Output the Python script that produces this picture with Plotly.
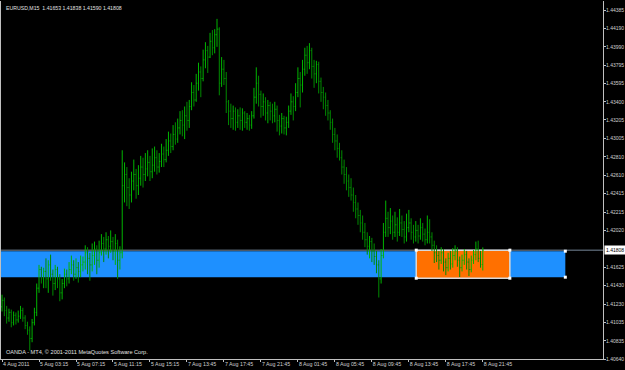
import plotly.graph_objects as go

bar_index = list(range(209))

opens = [
1.4120,1.4127,1.4116,1.4108,1.4114,1.4103,1.4111,1.4106,1.4110,1.4116,1.4108,1.4100,1.4095,1.4086,
1.4103,1.4114,1.4140,1.4160,1.4150,1.4158,1.4150,1.4165,1.4155,1.4145,1.4160,1.4150,1.4135,1.4145,1.4155,1.4150,
1.4160,1.4165,1.4155,1.4162,1.4158,1.4165,1.4168,1.4178,1.4172,1.4165,1.4175,1.4182,1.4170,1.4178,1.4188,1.4182,
1.4192,1.4185,1.4190,1.4180,1.4188,1.4170,
1.4178,1.4250,1.4262,1.4248,1.4240,1.4255,1.4262,1.4250,1.4258,1.4270,1.4262,1.4268,1.4275,1.4265,1.4272,1.4280,
1.4270,1.4276,1.4284,1.4278,1.4288,1.4298,1.4292,1.4305,1.4300,1.4312,1.4320,1.4315,1.4325,1.4320,1.4335,1.4350,
1.4342,1.4360,1.4372,1.4365,1.4385,1.4395,1.4388,1.4405,1.4398,1.4412,
1.4418,1.4360,1.4375,1.4365,1.4340,1.4330,1.4322,1.4330,1.4318,1.4325,1.4320,1.4328,1.4318,1.4322,1.4315,1.4325,
1.4345,1.4360,1.4348,1.4335,1.4340,1.4328,1.4336,1.4330,1.4325,1.4332,1.4320,1.4314,1.4322,1.4312,1.4318,1.4330,
1.4340,1.4335,1.4350,1.4365,1.4358,1.4375,1.4390,1.4382,1.4395,1.4378,1.4370,1.4380,1.4362,1.4350,1.4345,1.4336,1.4328,
1.4318,1.4305,1.4298,1.4290,1.4280,1.4270,1.4262,1.4255,1.4248,1.4240,1.4232,1.4225,1.4218,1.4210,1.4200,1.4192,
1.4185,1.4190,1.4180,1.4174,1.4165,1.4150,1.4175,1.4200,1.4215,1.4205,1.4212,1.4200,1.4208,1.4200,1.4210,1.4203,
1.4195,1.4205,1.4210,1.4200,1.4195,1.4202,1.4196,1.4205,1.4198,1.4192,1.4200,1.4195,1.4186,
1.4178,1.4175,1.4170,1.4178,1.4168,1.4162,1.4172,1.4166,1.4175,1.4180,1.4170,1.4162,1.4170,1.4176,1.4168,1.4160,
1.4170,1.4176,1.4182,1.4172,1.41653]

highs = [
1.4133,1.4130,1.4121,1.4118,1.4117,1.4115,1.4114,1.4116,1.4121,1.4119,1.4111,1.4104,1.4099,1.4107,
1.4119,1.4145,1.4165,1.4163,1.4162,1.4172,1.4170,1.4176,1.4160,1.4165,1.4163,1.4155,1.4150,1.4161,1.4160,1.4168,
1.4175,1.4170,1.4172,1.4168,1.4175,1.4174,1.4186,1.4184,1.4178,1.4188,1.4190,1.4186,1.4191,1.4198,1.4195,1.4200,
1.4196,1.4202,1.4195,1.4198,1.4192,1.4185,
1.4288,1.4275,1.4270,1.4258,1.4265,1.4278,1.4268,1.4272,1.4282,1.4280,1.4285,1.4288,1.4282,1.4290,1.4292,1.4288,
1.4285,1.4295,1.4292,1.4300,1.4308,1.4306,1.4315,1.4318,1.4322,1.4330,1.4331,1.4335,1.4340,1.4342,1.4361,1.4358,
1.4370,1.4382,1.4378,1.4396,1.4404,1.4400,1.4414,1.4417,1.4418,1.4429,
1.4420,1.4388,1.4385,1.4372,1.4342,1.4338,1.4336,1.4334,1.4332,1.4334,1.4333,1.4330,1.4328,1.4326,1.4330,1.4355,
1.4377,1.4368,1.4352,1.4349,1.4345,1.4342,1.4340,1.4338,1.4340,1.4336,1.4326,1.4328,1.4325,1.4324,1.4336,1.4349,
1.4346,1.4360,1.4377,1.4372,1.4385,1.4398,1.4400,1.4403,1.4398,1.4385,1.4384,1.4383,1.4366,1.4356,1.4350,1.4342,1.4331,
1.4322,1.4312,1.4305,1.4296,1.4288,1.4278,1.4270,1.4262,1.4258,1.4248,1.4240,1.4232,1.4224,1.4218,1.4210,1.4200,
1.4196,1.4194,1.4188,1.4180,1.4170,1.4182,1.4210,1.4234,1.4222,1.4226,1.4218,1.4222,1.4216,1.4225,1.4218,1.4212,
1.4220,1.4224,1.4215,1.4208,1.4212,1.4208,1.4215,1.4210,1.4204,1.4218,1.4214,1.4200,1.4191,
1.4186,1.4180,1.4184,1.4182,1.4172,1.4178,1.4180,1.4183,1.4186,1.4184,1.4174,1.4176,1.4182,1.4180,1.4172,1.4175,
1.4181,1.4190,1.4191,1.4180,1.41838]

lows = [
1.4115,1.4110,1.4102,1.4104,1.4098,1.4100,1.4101,1.4103,1.4107,1.4104,1.4096,1.4090,1.4073,1.4082,
1.4100,1.4110,1.4135,1.4145,1.4140,1.4140,1.4135,1.4148,1.4132,1.4138,1.4140,1.4126,1.4128,1.4140,1.4142,1.4145,
1.4155,1.4148,1.4150,1.4146,1.4152,1.4158,1.4160,1.4155,1.4148,1.4158,1.4165,1.4155,1.4162,1.4175,1.4168,1.4176,
1.4172,1.4178,1.4170,1.4165,1.4150,1.4160,
1.4172,1.4232,1.4228,1.4225,1.4232,1.4245,1.4236,1.4240,1.4250,1.4248,1.4255,1.4260,1.4255,1.4258,1.4265,1.4262,
1.4264,1.4270,1.4270,1.4275,1.4282,1.4285,1.4288,1.4294,1.4296,1.4305,1.4303,1.4300,1.4309,1.4312,1.4331,1.4335,
1.4340,1.4352,1.4345,1.4362,1.4376,1.4371,1.4387,1.4390,1.4392,1.4399,
1.4347,1.4356,1.4358,1.4328,1.4315,1.4312,1.4310,1.4309,1.4312,1.4310,1.4309,1.4312,1.4310,1.4309,1.4311,1.4322,
1.4338,1.4335,1.4323,1.4325,1.4320,1.4317,1.4320,1.4317,1.4318,1.4308,1.4304,1.4306,1.4305,1.4304,1.4312,1.4326,
1.4320,1.4330,1.4345,1.4334,1.4350,1.4368,1.4370,1.4375,1.4365,1.4355,1.4360,1.4349,1.4340,1.4332,1.4325,1.4320,1.4310,
1.4296,1.4288,1.4280,1.4277,1.4262,1.4252,1.4245,1.4238,1.4234,1.4222,1.4215,1.4208,1.4200,1.4192,1.4184,1.4176,
1.4172,1.4168,1.4165,1.4156,1.4130,1.4145,1.4172,1.4195,1.4195,1.4198,1.4192,1.4195,1.4190,1.4196,1.4195,1.4188,
1.4190,1.4200,1.4192,1.4188,1.4190,1.4188,1.4192,1.4190,1.4186,1.4188,1.4188,1.4180,1.4167,
1.4168,1.4160,1.4166,1.4158,1.4154,1.4158,1.4160,1.4162,1.4170,1.4163,1.4152,1.4158,1.4165,1.4160,1.4153,1.4157,
1.4166,1.4170,1.4168,1.4162,1.41590]

closes = [
1.4127,1.4116,1.4108,1.4114,1.4103,1.4111,1.4106,1.4110,1.4116,1.4108,1.4100,1.4095,1.4086,1.4103,
1.4114,1.4140,1.4160,1.4150,1.4158,1.4150,1.4165,1.4155,1.4145,1.4160,1.4150,1.4135,1.4145,1.4155,1.4150,1.4160,
1.4165,1.4155,1.4162,1.4158,1.4165,1.4168,1.4178,1.4172,1.4165,1.4175,1.4182,1.4170,1.4178,1.4188,1.4182,1.4192,
1.4185,1.4190,1.4180,1.4188,1.4170,1.4178,
1.4250,1.4262,1.4248,1.4240,1.4255,1.4262,1.4250,1.4258,1.4270,1.4262,1.4268,1.4275,1.4265,1.4272,1.4280,1.4270,
1.4276,1.4284,1.4278,1.4288,1.4298,1.4292,1.4305,1.4300,1.4312,1.4320,1.4315,1.4325,1.4320,1.4335,1.4350,1.4342,
1.4360,1.4372,1.4365,1.4385,1.4395,1.4388,1.4405,1.4398,1.4412,1.4418,
1.4360,1.4375,1.4365,1.4340,1.4330,1.4322,1.4330,1.4318,1.4325,1.4320,1.4328,1.4318,1.4322,1.4315,1.4325,1.4345,
1.4360,1.4348,1.4335,1.4340,1.4328,1.4336,1.4330,1.4325,1.4332,1.4320,1.4314,1.4322,1.4312,1.4318,1.4330,1.4340,
1.4335,1.4350,1.4365,1.4358,1.4375,1.4390,1.4382,1.4395,1.4378,1.4370,1.4380,1.4362,1.4350,1.4345,1.4336,1.4328,1.4318,
1.4305,1.4298,1.4290,1.4280,1.4270,1.4262,1.4255,1.4248,1.4240,1.4232,1.4225,1.4218,1.4210,1.4200,1.4192,1.4185,
1.4190,1.4180,1.4174,1.4165,1.4150,1.4175,1.4200,1.4215,1.4205,1.4212,1.4200,1.4208,1.4200,1.4210,1.4203,1.4195,
1.4205,1.4210,1.4200,1.4195,1.4202,1.4196,1.4205,1.4198,1.4192,1.4200,1.4195,1.4186,1.4178,
1.4175,1.4170,1.4178,1.4168,1.4162,1.4172,1.4166,1.4175,1.4180,1.4170,1.4162,1.4170,1.4176,1.4168,1.4160,1.4170,
1.4176,1.4182,1.4172,1.41653,1.41808]

x_tick_index = [0, 16, 32, 48, 64, 80, 96, 112, 128, 144, 160, 176, 192, 208]
x_tick_text = ["4 Aug 2011", "5 Aug 03:15", "5 Aug 07:15", "5 Aug 11:15", "5 Aug 15:15",
               "7 Aug 13:45", "7 Aug 17:45", "7 Aug 21:45", "8 Aug 01:45", "8 Aug 05:45",
               "8 Aug 09:45", "8 Aug 13:45", "8 Aug 17:45", "8 Aug 21:45"]
y_tick_vals = [1.44385, 1.44190, 1.43990, 1.43795, 1.43595, 1.43400, 1.43205, 1.43005, 1.42810,
               1.42610, 1.42415, 1.42215, 1.42020, 1.41625, 1.41430, 1.41230, 1.41035, 1.40835, 1.40640]
y_tick_text = ["%.5f" % v for v in y_tick_vals]

last_price = 1.41808
header_text = "EURUSD,M15  1.41653 1.41838 1.41590 1.41808"
footer_text = "OANDA - MT4, © 2001-2011 MetaQuotes Software Corp."

blue_zone = {"x0": -5, "x1": 243.7, "y0": 1.41518, "y1": 1.41797}
orange_zone = {"x0": 179.2, "x1": 219.7, "y0": 1.41507, "y1": 1.41808}

x_range = [-0.45, 260.0]
y_range = [1.40640, 1.44482]

FONT = "Liberation Sans, DejaVu Sans, sans-serif"

fig = go.Figure()

fig.add_shape(type="rect", xref="x", yref="y", layer="below",
              x0=blue_zone["x0"], x1=blue_zone["x1"], y0=blue_zone["y0"], y1=blue_zone["y1"],
              fillcolor="#1e90ff", line=dict(width=0))
fig.add_shape(type="rect", xref="x", yref="y", layer="below",
              x0=orange_zone["x0"], x1=orange_zone["x1"], y0=orange_zone["y0"], y1=orange_zone["y1"],
              fillcolor="#ff7000", line=dict(color="#d8d8d8", width=1.5))
fig.add_shape(type="line", xref="paper", yref="y", layer="below",
              x0=0, x1=1, y0=last_price, y1=last_price, line=dict(color="#778899", width=1))

fig.add_trace(go.Ohlc(
    x=bar_index, open=opens, high=highs, low=lows, close=closes,
    increasing=dict(line=dict(color="#00b400", width=1)),
    decreasing=dict(line=dict(color="#008a00", width=1)),
    tickwidth=0.35, showlegend=False, hoverinfo="skip"))

hx = [blue_zone["x1"], blue_zone["x1"], orange_zone["x0"], orange_zone["x1"], orange_zone["x0"], orange_zone["x1"]]
hy = [blue_zone["y0"], blue_zone["y1"], orange_zone["y0"], orange_zone["y0"], orange_zone["y1"], orange_zone["y1"]]
fig.add_trace(go.Scatter(x=hx, y=hy, mode="markers", showlegend=False, hoverinfo="skip",
                         marker=dict(symbol="square", size=3, color="white", line=dict(width=0))))

fig.update_layout(
    width=625, height=370,
    margin=dict(l=1, r=22, t=1, b=11),
    paper_bgcolor="#000000", plot_bgcolor="#000000",
    font=dict(family=FONT, size=5.3, color="#c8c8c8"),
    xaxis=dict(range=x_range, rangeslider=dict(visible=False), showgrid=False, zeroline=False,
               tickmode="array", tickvals=x_tick_index, ticktext=x_tick_text, tickangle=0,
               ticks="outside", ticklen=2, tickcolor="#c0c0c0", ticklabelposition="outside right",
               showline=True, linecolor="#c0c0c0", linewidth=1, automargin=False,
               tickfont=dict(family=FONT, size=5.3, color="#d0d0d0")),
    yaxis=dict(range=y_range, side="right", showgrid=False, zeroline=False,
               tickmode="array", tickvals=y_tick_vals, ticktext=y_tick_text,
               ticks="outside", ticklen=2, tickcolor="#c0c0c0", ticklabelstandoff=-1,
               showline=True, linecolor="#c0c0c0", linewidth=1, mirror=True, automargin=False,
               tickfont=dict(family=FONT, size=5.0, color="#d0d0d0")),
)

fig.add_annotation(xref="paper", yref="y", x=1, y=last_price, xanchor="left", yanchor="middle",
                   xshift=1, text="%.5f" % last_price, showarrow=False, bgcolor="#ffffff",
                   font=dict(family=FONT, size=5.0, color="#000000"), borderpad=1)
fig.add_annotation(xref="paper", yref="paper", x=0, y=1, xanchor="left", yanchor="top",
                   xshift=3, yshift=-2, text=header_text, showarrow=False,
                   font=dict(family=FONT, size=5.2, color="#e0e0e0"))
fig.add_annotation(xref="paper", yref="paper", x=0, y=0, xanchor="left", yanchor="bottom",
                   xshift=3, yshift=2, text=footer_text, showarrow=False,
                   font=dict(family=FONT, size=5.6, color="#e0e0e0"))

fig.write_html("out.html")
